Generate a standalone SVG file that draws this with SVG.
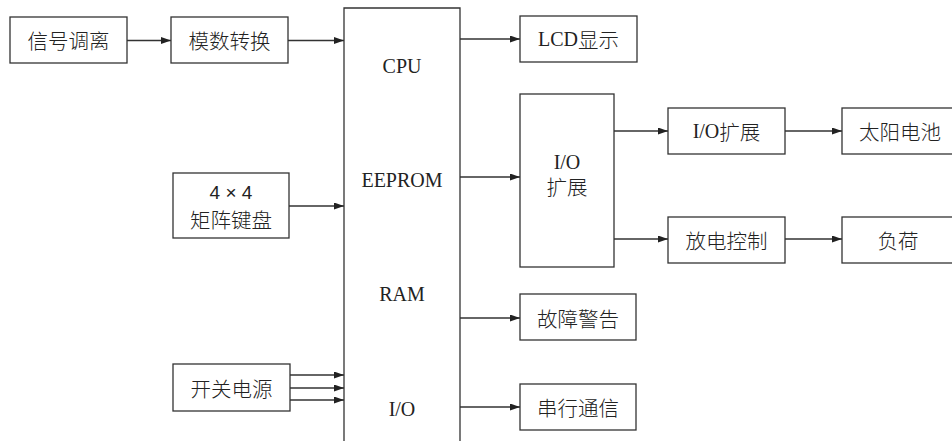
<svg xmlns="http://www.w3.org/2000/svg" width="952" height="441" viewBox="0 0 952 441">
<style>
.box{fill:#fff;stroke:#333;stroke-width:1.3}
.ln{fill:none;stroke:#333;stroke-width:1.3}
.cn{font-family:"Noto Sans CJK SC","Noto Sans CJK TC",sans-serif;font-size:20.5px;font-weight:300;fill:#222;text-anchor:middle;dominant-baseline:central}
.lt{font-family:"Liberation Serif","Noto Sans CJK SC",serif;font-size:20px;fill:#222;text-anchor:middle;dominant-baseline:central}
.cs{font-family:"Noto Sans CJK SC",sans-serif;font-size:20.5px;font-weight:300}
.ls{font-family:"Liberation Sans",sans-serif;font-size:19px;fill:#222;text-anchor:middle;dominant-baseline:central}
</style>
<defs>
<marker id="ah" markerUnits="userSpaceOnUse" markerWidth="11" markerHeight="8" refX="10" refY="3.5" orient="auto">
<path d="M0,0 L10,3.5 L0,7 z" fill="#222"/>
</marker>
</defs>
<rect width="952" height="441" fill="#fff"/>
<g id="connectors" class="ln" marker-end="url(#ah)">
<line x1="127" y1="40.5" x2="171" y2="40.5"/>
<line x1="288" y1="40.5" x2="344" y2="40.5"/>
<line x1="289" y1="206" x2="344" y2="206"/>
<line x1="290" y1="375" x2="344" y2="375"/>
<line x1="290" y1="388" x2="344" y2="388"/>
<line x1="290" y1="400" x2="344" y2="400"/>
<line x1="460" y1="39" x2="520" y2="39"/>
<line x1="460" y1="177" x2="520" y2="177"/>
<line x1="614" y1="131" x2="668" y2="131"/>
<line x1="614" y1="239" x2="668" y2="239"/>
<line x1="785" y1="131" x2="842" y2="131"/>
<line x1="785" y1="239" x2="842" y2="239"/>
<line x1="460" y1="318" x2="520" y2="318"/>
<line x1="460" y1="407" x2="520" y2="407"/>
</g>
<g id="n-signal"><rect class="box" x="10" y="17" width="117" height="46"/><text class="cn" x="68.5" y="40">信号调离</text></g>
<g id="n-adc"><rect class="box" x="171" y="17" width="117" height="46"/><text class="cn" x="229.5" y="40">模数转换</text></g>
<g id="n-keypad"><rect class="box" x="173" y="173" width="116" height="65"/><text class="ls" x="231" y="192">4 × 4</text><text class="cn" x="231" y="219">矩阵键盘</text></g>
<g id="n-power"><rect class="box" x="173" y="364" width="117" height="47"/><text class="cn" x="231.5" y="388">开关电源</text></g>
<g id="n-mcu"><path class="ln" d="M344,441 V8 H460 V441"/>
<text class="lt" x="402" y="66">CPU</text>
<text class="lt" x="402" y="180">EEPROM</text>
<text class="lt" x="402" y="294">RAM</text>
<text class="lt" x="402" y="409">I/O</text></g>
<g id="n-lcd"><rect class="box" x="520" y="16" width="117" height="46"/><text class="lt" x="578.5" y="39">LCD<tspan class="cs">显示</tspan></text></g>
<g id="n-ioexp"><rect class="box" x="520" y="94" width="94" height="173"/><text class="lt" x="567" y="162">I/O</text><text class="cn" x="567" y="186">扩展</text></g>
<g id="n-ioexp2"><rect class="box" x="668" y="108" width="117" height="46"/><text class="lt" x="726.5" y="131">I/O<tspan class="cs">扩展</tspan></text></g>
<g id="n-solar"><rect class="box" x="842" y="108" width="120" height="46"/><text class="cn" x="900" y="131">太阳电池</text></g>
<g id="n-discharge"><rect class="box" x="668" y="217" width="117" height="46"/><text class="cn" x="726.5" y="240">放电控制</text></g>
<g id="n-load"><rect class="box" x="842" y="217" width="120" height="46"/><text class="cn" x="898" y="240">负荷</text></g>
<g id="n-fault"><rect class="box" x="520" y="294" width="116" height="46"/><text class="cn" x="578" y="318">故障警告</text></g>
<g id="n-serial"><rect class="box" x="520" y="384" width="116" height="46"/><text class="cn" x="578" y="407">串行通信</text></g>
</svg>
